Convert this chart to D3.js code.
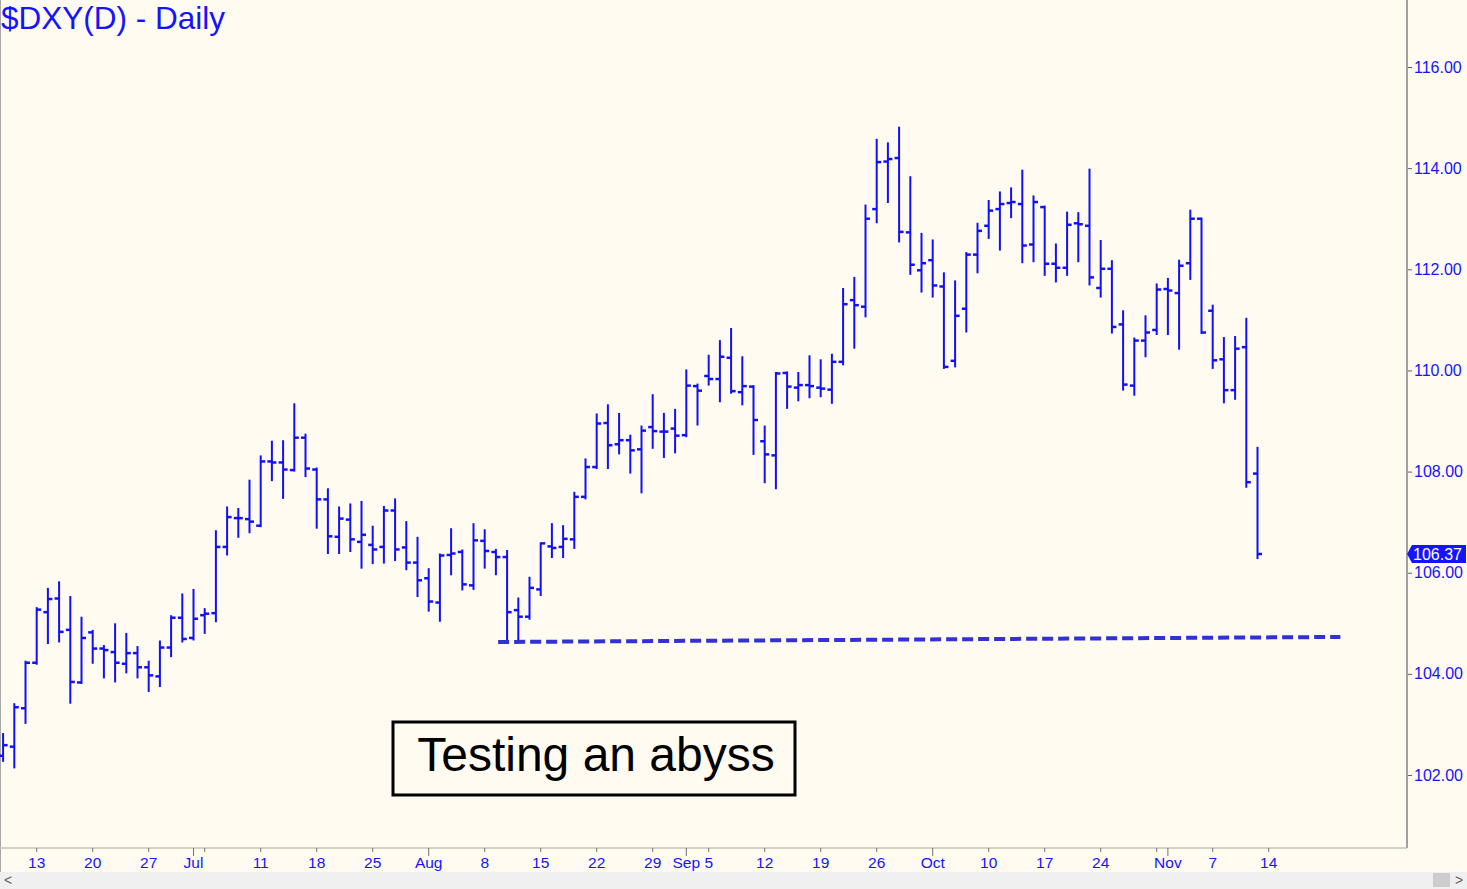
<!DOCTYPE html>
<html>
<head>
<meta charset="utf-8">
<script src="https://cdn.jsdelivr.net/npm/d3@7"></script>
<style>
  body { margin: 0; background: #fffbf0; }
  svg { display: block; }
</style>
</head>
<body>
<div id="container"></div>
<script>
var width = 1467;
var height = 889;
var axisX = 1407;   // right price axis
var axisY = 848;    // bottom date axis
var font = "'Liberation Sans', Arial, sans-serif";

// daily bars, first bar is Jun 8 2022, weekdays only
var opens = [102.38, 102.56, 103.32, 104.22, 105.22, 105.49, 104.87, 103.83, 104.82, 104.50,
    104.43, 104.20, 104.41, 104.13, 103.95, 104.52, 105.11, 104.71, 105.16, 105.20,
    106.51, 107.08, 107.06, 106.93, 108.20, 108.18, 108.03, 108.67, 108.04, 107.45,
    106.71, 107.05, 106.61, 106.55, 106.51, 107.23, 106.50, 106.20, 105.89, 105.41,
    106.35, 106.41, 105.75, 106.63, 106.41, 106.31, 105.26, 105.13, 105.67, 106.52,
    106.51, 106.66, 107.50, 108.09, 108.96, 108.54, 108.62, 108.44, 108.88, 108.79,
    108.85, 108.72, 109.69, 109.89, 109.83, 110.25, 109.57, 109.68, 108.60, 108.32,
    109.95, 109.66, 109.71, 109.66, 109.62, 110.17, 111.39, 111.26, 113.19, 114.13,
    114.20, 112.73, 111.98, 112.18, 111.66, 110.19, 111.22, 112.29, 112.86, 113.19,
    113.31, 113.29, 112.49, 113.23, 112.11, 112.03, 112.91, 112.86, 111.63, 112.01,
    110.91, 109.70, 110.59, 110.80, 111.61, 111.53, 112.12, 113.00, 111.18, 110.22,
    109.61, 110.46, 107.96];
var highs = [102.81, 103.40, 104.24, 105.30, 105.68, 105.81, 105.52, 105.11, 104.85, 104.55,
    104.98, 104.79, 104.53, 104.24, 104.64, 105.14, 105.57, 105.66, 105.28, 106.82,
    107.29, 107.26, 107.82, 108.30, 108.59, 108.60, 109.33, 108.73, 108.06, 107.65,
    107.29, 107.35, 107.40, 106.91, 107.30, 107.45, 107.00, 106.69, 106.07, 106.36,
    106.86, 106.44, 106.96, 106.84, 106.45, 106.43, 105.49, 105.90, 106.58, 106.96,
    106.92, 107.58, 108.24, 109.13, 109.31, 109.14, 108.71, 108.89, 109.51, 109.14,
    109.22, 110.00, 109.72, 110.29, 110.58, 110.82, 110.26, 109.69, 108.89, 109.95,
    109.96, 109.95, 110.28, 110.20, 110.31, 111.61, 111.83, 113.26, 114.56, 114.49,
    114.80, 113.82, 112.70, 112.57, 111.92, 111.76, 112.32, 112.90, 113.35, 113.52,
    113.60, 113.95, 113.44, 113.24, 112.49, 113.12, 113.11, 113.97, 112.56, 112.16,
    111.17, 110.63, 111.07, 111.70, 111.81, 112.17, 113.16, 113.00, 111.28, 110.64,
    110.66, 111.02, 108.47];
var lows = [102.28, 102.15, 103.03, 104.20, 104.61, 104.64, 103.43, 103.82, 104.22, 103.93,
    103.85, 104.03, 103.93, 103.66, 103.76, 104.35, 104.64, 104.68, 104.81, 105.04,
    106.36, 106.71, 106.80, 106.92, 107.83, 107.48, 108.02, 107.91, 106.89, 106.39,
    106.39, 106.43, 106.10, 106.19, 106.20, 106.25, 106.07, 105.54, 105.25, 105.05,
    105.97, 105.67, 105.68, 106.10, 105.97, 104.65, 104.65, 105.09, 105.56, 106.31,
    106.31, 106.49, 107.47, 108.07, 108.07, 108.36, 107.98, 107.59, 108.47, 108.29,
    108.38, 108.70, 108.93, 109.72, 109.39, 109.56, 109.33, 108.35, 107.79, 107.67,
    109.26, 109.41, 109.47, 109.49, 109.36, 110.12, 110.45, 111.07, 112.93, 113.33,
    112.55, 111.91, 111.56, 111.46, 110.05, 110.08, 110.77, 111.94, 112.62, 112.39,
    113.03, 112.14, 112.16, 111.89, 111.76, 111.89, 112.16, 111.70, 111.46, 110.75,
    109.62, 109.52, 110.28, 110.72, 110.72, 110.43, 111.81, 110.74, 110.05, 109.37,
    109.44, 107.70, 106.29];
var closes = [102.59, 103.34, 104.22, 105.27, 105.48, 104.83, 103.84, 104.71, 104.50, 104.47,
    104.22, 104.41, 104.13, 103.97, 104.52, 105.11, 104.69, 105.09, 105.19, 106.51,
    107.10, 107.08, 107.01, 108.20, 108.18, 108.04, 108.67, 108.06, 107.45, 106.72,
    107.07, 106.66, 106.75, 106.46, 107.23, 106.46, 106.20, 105.85, 105.43, 106.34,
    106.38, 105.77, 106.64, 106.43, 106.31, 105.22, 105.13, 105.70, 106.58, 106.49,
    106.67, 107.50, 108.09, 108.95, 108.52, 108.62, 108.42, 108.81, 108.80, 108.79,
    108.71, 109.70, 109.60, 109.83, 110.27, 109.59, 109.69, 109.02, 108.34, 109.94,
    109.68, 109.71, 109.69, 109.64, 110.17, 111.31, 111.29, 113.00, 114.12, 114.18,
    112.74, 112.09, 112.12, 111.68, 110.07, 111.08, 112.29, 112.76, 113.16, 113.29,
    113.33, 112.47, 113.33, 112.11, 112.03, 112.88, 112.89, 111.84, 112.01, 110.86,
    109.72, 110.59, 110.75, 111.60, 111.58, 112.07, 113.00, 110.75, 110.20, 109.61,
    110.43, 107.79, 106.37];

var lastPrice = 106.37;
var priceTicks = [102, 104, 106, 108, 110, 112, 114, 116];

// date axis labels
var tickDates = ["2022-06-13", "2022-06-20", "2022-06-27", "2022-07-01", "2022-07-11", "2022-07-18",
    "2022-07-25", "2022-08-01", "2022-08-08", "2022-08-15", "2022-08-22", "2022-08-29",
    "2022-09-01", "2022-09-05", "2022-09-12", "2022-09-19", "2022-09-26", "2022-10-03",
    "2022-10-10", "2022-10-17", "2022-10-24", "2022-11-01", "2022-11-07", "2022-11-14"];
var tickLabels = ["13", "20", "27", "Jul", "11", "18", "25", "Aug", "8", "15", "22", "29",
    "Sep", "5", "12", "19", "26", "Oct", "10", "17", "24", "Nov", "7", "14"];
var monthTicks = ["2022-07-01", "2022-08-01", "2022-09-01", "2022-10-03", "2022-11-01"];
var extraTicks = ["2022-07-04", "2022-10-31"];

// support line (bar index, value)
var supportIdx = [44.2, 119.4];
var supportValues = [104.63, 104.73];

var noteText = "Testing an abyss";

// weekday calendar starting at the first bar
var days = d3.timeDay.range(new Date(2022, 5, 8), new Date(2022, 11, 31))
    .filter(function(d) { return d.getDay() !== 0 && d.getDay() !== 6; });
var dayKey = d3.timeFormat("%Y-%m-%d");
var dayIndex = {};
days.forEach(function(d, i) { dayIndex[dayKey(d)] = i; });

var bars = opens.map(function(o, i) {
    return { i: i, o: o, h: highs[i], l: lows[i], c: closes[i] };
});

var xScale = d3.scaleLinear()
    .domain([0, 113])
    .range([3.1, 1268.7]);

var yScale = d3.scaleLinear()
    .domain([102, 116])
    .range([775, 67]);

var svg = d3.select("#container")
    .append("svg")
    .attr("width", width)
    .attr("height", height);

svg.append("rect")
    .attr("width", width)
    .attr("height", height)
    .attr("fill", "#fffbf0");

// left border
svg.append("line")
    .attr("x1", 0.5).attr("x2", 0.5)
    .attr("y1", 0).attr("y2", 872)
    .attr("stroke", "#a8a8a8");

// bars
var barColor = "#1010ff";
var g = svg.append("g").attr("stroke", barColor).attr("stroke-width", 2);

g.selectAll("line.hl")
    .data(bars)
    .enter()
    .append("line")
    .attr("class", "hl")
    .attr("x1", function(d) { return xScale(d.i); })
    .attr("x2", function(d) { return xScale(d.i); })
    .attr("y1", function(d) { return yScale(d.h) - 1; })
    .attr("y2", function(d) { return yScale(d.l) + 1; });

g.selectAll("line.open")
    .data(bars)
    .enter()
    .append("line")
    .attr("class", "open")
    .attr("x1", function(d) { return xScale(d.i) - 4.5; })
    .attr("x2", function(d) { return xScale(d.i); })
    .attr("y1", function(d) { return yScale(d.o); })
    .attr("y2", function(d) { return yScale(d.o); })
    .attr("stroke-width", 2.5);

g.selectAll("line.close")
    .data(bars)
    .enter()
    .append("line")
    .attr("class", "close")
    .attr("x1", function(d) { return xScale(d.i); })
    .attr("x2", function(d) { return xScale(d.i) + 4.5; })
    .attr("y1", function(d) { return yScale(d.c); })
    .attr("y2", function(d) { return yScale(d.c); })
    .attr("stroke-width", 2.5);

// dashed support line
svg.append("line")
    .attr("x1", xScale(supportIdx[0]))
    .attr("x2", xScale(supportIdx[1]))
    .attr("y1", yScale(supportValues[0]))
    .attr("y2", yScale(supportValues[1]))
    .attr("stroke", "#3232d2")
    .attr("stroke-width", 4)
    .attr("stroke-dasharray", "11,5");

// note box
svg.append("rect")
    .attr("x", 393)
    .attr("y", 722)
    .attr("width", 402)
    .attr("height", 73)
    .attr("fill", "none")
    .attr("stroke", "#000")
    .attr("stroke-width", 3);

svg.append("text")
    .attr("x", 596)
    .attr("y", 771)
    .attr("text-anchor", "middle")
    .attr("font-family", font)
    .attr("font-size", "48px")
    .attr("fill", "#000")
    .text(noteText);

// title
svg.append("text")
    .attr("x", 1)
    .attr("y", 29)
    .attr("font-family", font)
    .attr("font-size", "31.5px")
    .attr("fill", "#1414ff")
    .text("$DXY(D) - Daily");

// right price axis
svg.append("line")
    .attr("x1", axisX).attr("x2", axisX)
    .attr("y1", 0).attr("y2", axisY)
    .attr("stroke", "#a0a0a0")
    .attr("stroke-width", 2);

var yAxis = d3.axisRight(yScale)
    .tickValues(priceTicks)
    .tickFormat(d3.format(".2f"))
    .tickSize(4)
    .tickPadding(2);

var yG = svg.append("g")
    .attr("transform", "translate(" + (axisX + 1) + ",0)")
    .call(yAxis);
yG.select(".domain").remove();
yG.selectAll(".tick line").attr("stroke", "#606060");
yG.selectAll(".tick text")
    .attr("font-family", font)
    .attr("font-size", "16px")
    .attr("fill", "#1414ff");

// last price tag
var py = yScale(lastPrice);
svg.append("path")
    .attr("d", "M" + (axisX) + "," + py + "L" + (axisX + 5) + "," + (py - 9) +
        "L" + (width - 1) + "," + (py - 9) + "L" + (width - 1) + "," + (py + 9) +
        "L" + (axisX + 5) + "," + (py + 9) + "Z")
    .attr("fill", "#1414ff");
svg.append("text")
    .attr("x", axisX + 6)
    .attr("y", py)
    .attr("dy", "0.35em")
    .attr("font-family", font)
    .attr("font-size", "16px")
    .attr("fill", "#fff")
    .text(lastPrice.toFixed(2));

// bottom date axis
svg.append("line")
    .attr("x1", 0).attr("x2", axisX)
    .attr("y1", axisY).attr("y2", axisY)
    .attr("stroke", "#c8c0b0")
    .attr("stroke-width", 1.5);

var allTicks = tickDates.concat(extraTicks);
svg.append("g")
    .selectAll("line")
    .data(allTicks)
    .enter()
    .append("line")
    .attr("x1", function(d) { return xScale(dayIndex[d]); })
    .attr("x2", function(d) { return xScale(dayIndex[d]); })
    .attr("y1", axisY)
    .attr("y2", function(d) { return monthTicks.indexOf(d) >= 0 ? axisY + 8 : axisY + 4; })
    .attr("stroke", "#707070");

svg.append("g")
    .selectAll("text")
    .data(tickDates)
    .enter()
    .append("text")
    .attr("x", function(d) { return xScale(dayIndex[d]); })
    .attr("y", 868)
    .attr("text-anchor", "middle")
    .attr("font-family", font)
    .attr("font-size", "15.5px")
    .attr("fill", "#1414ff")
    .text(function(d, i) { return tickLabels[i]; });

// scrollbar
svg.append("rect")
    .attr("x", 0).attr("y", 872)
    .attr("width", width).attr("height", 17)
    .attr("fill", "#f0f0f0");
svg.append("rect")
    .attr("x", 1433).attr("y", 873)
    .attr("width", 17).attr("height", 14)
    .attr("fill", "#cdcdcd");
svg.append("text")
    .attr("x", 8).attr("y", 885)
    .attr("text-anchor", "middle")
    .attr("font-family", font)
    .attr("font-size", "14px")
    .attr("fill", "#606060")
    .text("<");
svg.append("text")
    .attr("x", 1459).attr("y", 885)
    .attr("text-anchor", "middle")
    .attr("font-family", font)
    .attr("font-size", "14px")
    .attr("fill", "#606060")
    .text(">");
</script>
</body>
</html>
